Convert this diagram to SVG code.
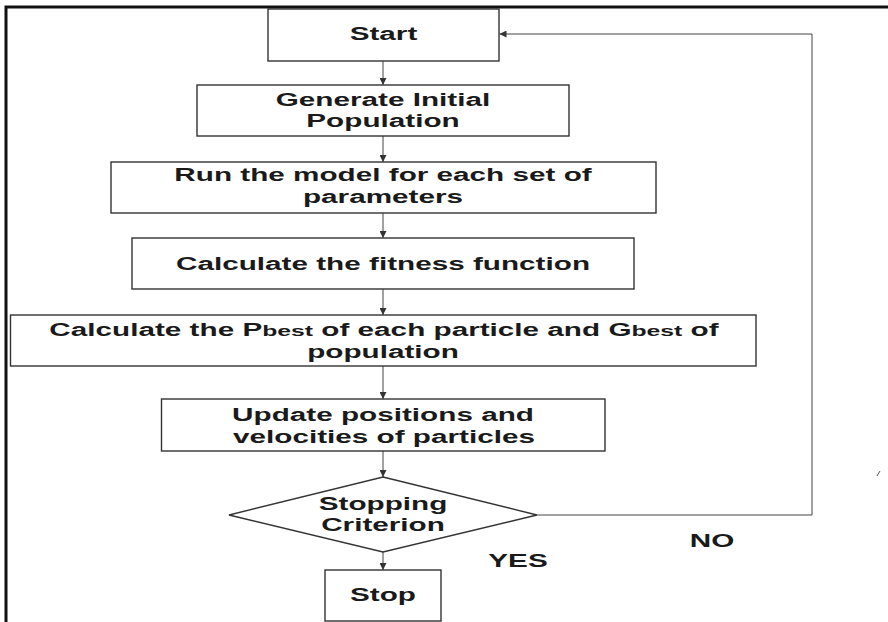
<svg xmlns="http://www.w3.org/2000/svg" width="888" height="622" viewBox="0 0 888 622">
<style>
.box{fill:#fff;stroke:#333;stroke-width:1.4}
.lbl{font-family:"Liberation Sans",Arial,sans-serif;font-weight:bold;font-size:18px;fill:#1a1a1a;text-anchor:middle}
.sub{font-size:15px}
.con{fill:none;stroke:#444;stroke-width:1}
.frame{fill:none;stroke:#111;stroke-width:3}
</style>
<defs>
<marker id="ah" viewBox="0 0 10 10" refX="10" refY="5" markerWidth="7" markerHeight="7" markerUnits="userSpaceOnUse" orient="auto">
<path d="M0,0 L10,5 L0,10 z" fill="#333"/>
</marker>
</defs>
<rect width="888" height="622" fill="#fff"/>
<path class="frame" d="M6,622 V7 H888"/>
<g id="connectors">
<line class="con" x1="383" y1="61" x2="383" y2="85" marker-end="url(#ah)"/>
<line class="con" x1="383" y1="136" x2="383" y2="162" marker-end="url(#ah)"/>
<line class="con" x1="383" y1="213" x2="383" y2="238" marker-end="url(#ah)"/>
<line class="con" x1="383" y1="289" x2="383" y2="315" marker-end="url(#ah)"/>
<line class="con" x1="383" y1="366" x2="383" y2="399" marker-end="url(#ah)"/>
<line class="con" x1="383" y1="451" x2="383" y2="477" marker-end="url(#ah)"/>
<line class="con" x1="383" y1="552" x2="383" y2="570" marker-end="url(#ah)"/>
<path class="con" d="M537,515 H812 V34 H499.5" stroke-width="1.4" marker-end="url(#ah)"/>
<text class="lbl" transform="translate(518,567) scale(1.65,1)">YES</text>
<text class="lbl" transform="translate(712,547) scale(1.65,1)">NO</text>
</g>
<g id="start">
<rect class="box" x="268" y="9" width="231" height="52"/>
<text class="lbl" transform="translate(383.5,40) scale(1.65,1)">Start</text>
</g>
<g id="generate">
<rect class="box" x="197" y="85" width="372" height="51"/>
<text class="lbl" transform="translate(383,106) scale(1.65,1)">Generate Initial</text>
<text class="lbl" transform="translate(383,127) scale(1.65,1)">Population</text>
</g>
<g id="run">
<rect class="box" x="111" y="162" width="545" height="51"/>
<text class="lbl" transform="translate(383,181) scale(1.65,1)">Run the model for each set of</text>
<text class="lbl" transform="translate(383,203) scale(1.65,1)">parameters</text>
</g>
<g id="fitness">
<rect class="box" x="132" y="238" width="502" height="51"/>
<text class="lbl" transform="translate(383,270) scale(1.65,1)">Calculate the fitness function</text>
</g>
<g id="pbest">
<rect class="box" x="10.5" y="315" width="745.5" height="51"/>
<text class="lbl" transform="translate(384,336) scale(1.65,1)">Calculate the P<tspan class="sub">best</tspan> of each particle and G<tspan class="sub">best</tspan> of</text>
<text class="lbl" transform="translate(383,358) scale(1.65,1)">population</text>
</g>
<g id="update">
<rect class="box" x="161.5" y="399" width="443.5" height="52"/>
<text class="lbl" transform="translate(383,421) scale(1.65,1)">Update positions and</text>
<text class="lbl" transform="translate(384,443) scale(1.65,1)">velocities of particles</text>
</g>
<g id="criterion">
<polygon class="box" points="383,477 537,515 383,552 229,515"/>
<text class="lbl" transform="translate(383,510) scale(1.65,1)">Stopping</text>
<text class="lbl" transform="translate(383,531) scale(1.65,1)">Criterion</text>
</g>
<g id="stop">
<rect class="box" x="325" y="570" width="116" height="51"/>
<text class="lbl" transform="translate(383,601) scale(1.65,1)">Stop</text>
</g>
<line x1="877" y1="476" x2="880" y2="471" stroke="#555" stroke-width="1"/>
</svg>
